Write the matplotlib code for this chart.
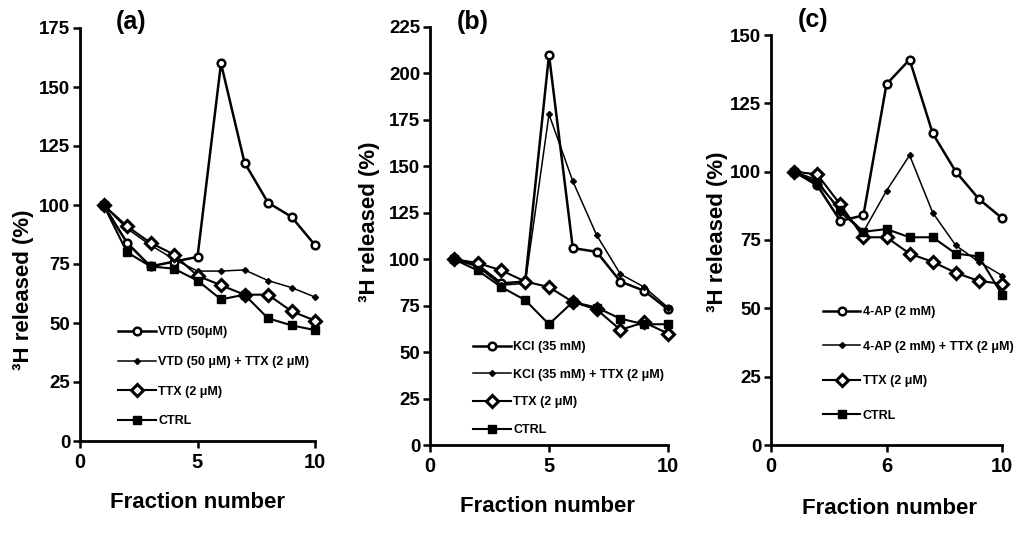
import matplotlib
matplotlib.use("Agg")
import matplotlib.pyplot as plt
from matplotlib.ticker import FixedLocator, FixedFormatter

plt.rcParams['font.family'] = ['Liberation Sans', 'DejaVu Sans']
plt.rcParams['font.weight'] = 'bold'

fractions = [1, 2, 3, 4, 5, 6, 7, 8, 9, 10]

# Panel (a)
a_vtd = [100, 84, 74, 76, 78, 160, 118, 101, 95, 83]
a_vtd_ttx = [100, 90, 83, 77, 72, 72, 72.5, 68, 65, 61]
a_ttx = [100, 91, 84, 79, 70, 66, 62, 62, 55, 51]
a_ctrl = [100, 80, 74, 73, 68, 60, 62, 52, 49, 47]
a_labels = ["VTD (50\u03bcM)", "VTD (50 \u03bcM) + TTX (2 \u03bcM)", "TTX (2 \u03bcM)", "CTRL"]

# Panel (b)
b_kcl = [100, 97, 87, 88, 210, 106, 104, 88, 83, 73]
b_kcl_ttx = [100, 96, 86, 87, 178, 142, 113, 92, 85, 74]
b_ttx = [100, 98, 94, 88, 85, 77, 73, 62, 66, 60]
b_ctrl = [100, 94, 85, 78, 65, 77, 74, 68, 65, 65]
b_labels = ["KCl (35 mM)", "KCl (35 mM) + TTX (2 \u03bcM)", "TTX (2 \u03bcM)", "CTRL"]

# Panel (c)
c_4ap = [100, 95, 82, 84, 132, 141, 114, 100, 90, 83]
c_4ap_ttx = [100, 97, 85, 78, 93, 106, 85, 73, 67, 62]
c_ttx = [100, 99, 88, 76, 76, 70, 67, 63, 60, 59]
c_ctrl = [100, 96, 86, 78, 79, 76, 76, 70, 69, 55]
c_labels = ["4-AP (2 mM)", "4-AP (2 mM) + TTX (2 \u03bcM)", "TTX (2 \u03bcM)", "CTRL"]

a_yticks = [0, 25, 50, 75, 100, 125, 150, 175]
b_yticks = [0, 25, 50, 75, 100, 125, 150, 175, 200, 225]
c_yticks = [0, 25, 50, 75, 100, 125, 150]
xtick_pos = [0, 5, 10]
ab_xtick_labels = ["0", "5", "10"]
c_xtick_labels = ["0", "6", "10"]
panel_tags = ["(a)", "(b)", "(c)"]

W, H = 1016, 535
fig = plt.figure(figsize=(W / 100, H / 100), dpi=100)


def px_axes(left, right, top, bottom):
    return fig.add_axes([left / W, 1 - bottom / H, (right - left) / W, (bottom - top) / H])


def ftext(x, y, s, **kw):
    fig.text(x / W, 1 - y / H, s, **kw)


panels = [
    dict(box=(80, 315, 28, 441), series=[a_vtd, a_vtd_ttx, a_ttx, a_ctrl], labels=a_labels,
         yticks=a_yticks, xlabels=ab_xtick_labels, leg=(0.162, 0.278), lsp=1.42,
         tag=(131, 22), ylab=(24, 290), xlab=(198, 503)),
    dict(box=(430, 668, 27, 445), series=[b_kcl, b_kcl_ttx, b_ttx, b_ctrl], labels=b_labels,
         yticks=b_yticks, xlabels=ab_xtick_labels, leg=(0.181, 0.249), lsp=1.26,
         tag=(473, 22), ylab=(369, 222), xlab=(547, 506)),
    dict(box=(771, 1002, 35, 445), series=[c_4ap, c_4ap_ttx, c_ttx, c_ctrl], labels=c_labels,
         yticks=c_yticks, xlabels=c_xtick_labels, leg=(0.225, 0.339), lsp=1.8,
         tag=(813, 20), ylab=(718, 232), xlab=(890, 509)),
]

styles = [
    dict(marker='o', ms=5.5, mfc='white', mec='black', mew=1.8, lw=1.8),
    dict(marker='D', ms=3.0, mfc='black', mec='black', mew=1.0, lw=1.1),
    dict(marker='D', ms=6.0, mfc='white', mec='black', mew=2.2, lw=1.5),
    dict(marker='s', ms=5.5, mfc='black', mec='black', mew=1.0, lw=1.5),
]

for i, p in enumerate(panels):
    ax = px_axes(*p['box'])
    for vals, lab, st in zip(p['series'], p['labels'], styles):
        ax.plot(fractions, vals, color='black', label=lab, clip_on=False, zorder=3, **st)
    ax.set_xlim(0, 10)
    ax.set_ylim(0, p['yticks'][-1])
    ax.xaxis.set_major_locator(FixedLocator(xtick_pos))
    ax.xaxis.set_major_formatter(FixedFormatter(p['xlabels']))
    ax.yaxis.set_major_locator(FixedLocator(p['yticks']))
    for s in ['top', 'right']:
        ax.spines[s].set_visible(False)
    for s in ['left', 'bottom']:
        ax.spines[s].set_linewidth(2.0)
    ax.tick_params(axis='both', direction='out', length=5, width=1.8, labelsize=13.5, pad=2)
    for t in ax.get_xticklabels() + ax.get_yticklabels():
        t.set_fontweight('bold')
    ax.tick_params(axis='x', labelsize=14.5, pad=4)
    ax.legend(loc='upper left', bbox_to_anchor=p['leg'], frameon=False,
              prop=dict(weight='bold', size=9), handlelength=3.0, handletextpad=0.2,
              labelspacing=p['lsp'], borderpad=0, borderaxespad=0, numpoints=1)
    ftext(p['tag'][0], p['tag'][1], panel_tags[i], fontsize=18, ha='center', va='center')
    ftext(p['ylab'][0], p['ylab'][1], "\u00b3H released (%)", fontsize=16, rotation=90,
          ha='center', va='center', fontweight='bold')
    ftext(p['xlab'][0], p['xlab'][1], "Fraction number", fontsize=16, ha='center', va='center',
          fontweight='bold')

fig.savefig("out.png", dpi=100)
